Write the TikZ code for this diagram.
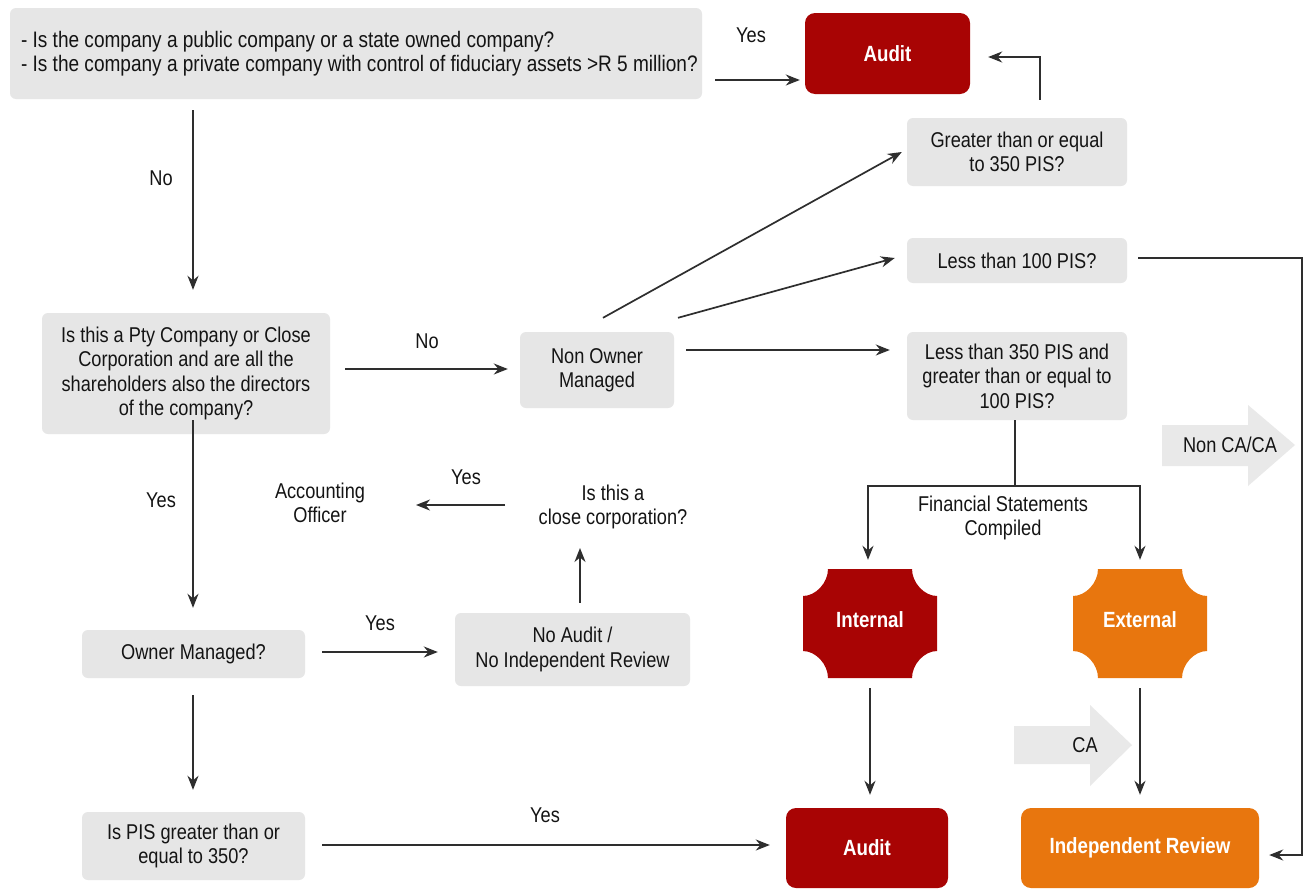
\documentclass[tikz,border=0pt]{standalone}
\usepackage{fontspec}
\setmainfont{Liberation Sans}[FakeStretch=0.85]
\usetikzlibrary{arrows.meta,calc}
\definecolor{boxgray}{HTML}{E6E6E6}
\definecolor{bigarrow}{HTML}{E9E9E9}
\definecolor{auditred}{HTML}{A80404}
\definecolor{extorange}{HTML}{E8760E}
\definecolor{linegray}{HTML}{2E2E2E}
\definecolor{txtcol}{HTML}{141414}
\newcommand\mainf{\fontsize{21.4}{24.5}\selectfont}
\newcommand\topf{\fontsize{22.4}{23.5}\selectfont}
\newcommand\boldf{\fontsize{22}{25}\selectfont\bfseries}
\tikzset{
  gbox/.style={fill=boxgray, rounded corners=6pt, inner sep=0pt, align=center, font=\mainf, text=txtcol},
  rbox/.style={fill=auditred, rounded corners=10pt, inner sep=0pt, font=\boldf, text=white},
  obox/.style={fill=extorange, rounded corners=10pt, inner sep=0pt, font=\boldf, text=white},
  lbl/.style={inner sep=0pt, align=center, font=\mainf, text=txtcol},
  arr/.style={draw=linegray, line width=1.7pt, -{Stealth[length=14pt,width=11pt]}},
  ln/.style={draw=linegray, line width=1.7pt},
  plaquetext/.style={inner sep=0pt, minimum width=134pt, minimum height=109pt, font=\boldf, text=white},
}
\newcommand\plaquepath[3]{%
  \fill[#3, shift={(#1,#2)}] (-42,-54.5) -- (42,-54.5)
    .. controls (42,-41) and (54,-27.5) .. (67,-27.5) -- (67,27.5)
    .. controls (54,27.5) and (42,41) .. (42,54.5) -- (-42,54.5)
    .. controls (-42,41) and (-54,27.5) .. (-67,27.5) -- (-67,-27.5)
    .. controls (-54,-27.5) and (-42,-41) .. (-42,-54.5) -- cycle;}
\begin{document}
\begin{tikzpicture}[x=1pt,y=-1pt]
\useasboundingbox[fill=white] (0,0) rectangle (1309,889);

% ---------- nodes ----------
\node[gbox, minimum width=692pt, minimum height=91pt, inner xsep=11pt, align=left, font=\topf] (q1) at (356,53.5)
  {\makebox[670pt][l]{- Is the company a public company or a state owned company?}\\\makebox[670pt][l]{- Is the company a private company with control of fiduciary assets >R 5 million?}};
\node[rbox, minimum width=165pt, minimum height=81pt] (audit1) at (887.5,53.5) {Audit};
\node[gbox, minimum width=220pt, minimum height=68pt] (g350) at (1017,152) {Greater than or equal\\to 350 PIS?};
\node[gbox, minimum width=220pt, minimum height=45pt] (l100) at (1017,260.5) {Less than 100 PIS?};
\node[gbox, minimum width=220pt, minimum height=88pt] (l350) at (1017,376) {Less than 350 PIS and\\greater than or equal to\\100 PIS?};
\node[gbox, minimum width=154pt, minimum height=76pt] (nom) at (597,370) {Non Owner\\Managed};
\node[gbox, minimum width=288pt, minimum height=121pt] (pty) at (186,373.5) {Is this a Pty Company or Close\\Corporation and are all the\\shareholders also the directors\\of the company?};
\node[gbox, minimum width=223pt, minimum height=48pt] (om) at (193.5,654) {Owner Managed?};
\node[gbox, minimum width=235pt, minimum height=73pt] (na) at (572.5,649.5) {No Audit /\\No Independent Review};
\node[lbl] (cc) at (613,507) {Is this a\\close corporation?};
\node[lbl] (ao) at (320,503) {Accounting\\Officer};
\node[gbox, minimum width=223pt, minimum height=68pt] (pis) at (193.5,846) {Is PIS greater than or\\equal to 350?};
\node[rbox, minimum width=162pt, minimum height=80pt] (audit2) at (867,848) {Audit};
\node[obox, minimum width=238pt, minimum height=80pt] (ir) at (1140,848) {Independent Review};

\plaquepath{870}{623.5}{auditred}
\plaquepath{1140}{623.5}{extorange}
\node[plaquetext] (int) at (870,620) {Internal};
\node[plaquetext] (ext) at (1140,620) {External};

% big gray arrows
\fill[bigarrow] (1162,425) -- (1248,425) -- (1248,405) -- (1295,445) -- (1248,486) -- (1248,466) -- (1162,466) -- cycle;
\node[lbl] (nca) at (1230,445) {Non CA/CA};
\fill[bigarrow] (1014,726) -- (1090,726) -- (1090,705) -- (1132,745) -- (1090,786) -- (1090,764) -- (1014,764) -- cycle;
\node[lbl] (ca) at (1085,745) {CA};

\node[lbl] (fsc) at (1003,518) {Financial Statements\\Compiled};

% labels
\node[lbl] at (751,35) {Yes};
\node[lbl] at (161,178) {No};
\node[lbl] at (427,341) {No};
\node[lbl] at (161,500) {Yes};
\node[lbl] at (466,477) {Yes};
\node[lbl] at (380,623) {Yes};
\node[lbl] at (545,815) {Yes};

% ---------- connectors ----------
\draw[arr] ([shift={(13,26.5)}]q1.east) -- ([shift={(-5,26.5)}]audit1.west);
\draw[arr] ([shift={(23,-18)}]g350.north) |- ([shift={(18,3.5)}]audit1.east);
\draw[arr] ([shift={(-163,11)}]q1.south) -- ([shift={(7,-23)}]pty.north);
\draw[arr] ([shift={(15,-4.5)}]pty.east) -- ([shift={(-12,-1)}]nom.west);
\draw[arr] ([shift={(7,-14)}]pty.south) -- ([shift={(-0.5,-22)}]om.north);
\draw[arr] ([shift={(17,-2)}]om.east) -- ([shift={(-17,2.5)}]na.west);
\draw[arr] ([shift={(7.5,-10)}]na.north) -- ([shift={(-33,41)}]cc.center);
\draw[arr] ([shift={(-108,-2)}]cc.center) -- ([shift={(96,2)}]ao.center);
\draw[arr] ([shift={(-0.5,17)}]om.south) -- ([shift={(-0.5,-22)}]pis.north);
\draw[arr] ([shift={(17,-1)}]pis.east) -- ([shift={(-16,-3)}]audit2.west);
\draw[arr] ([shift={(6,-14)}]nom.north) -- ([shift={(-5,0)}]g350.west);
\draw[arr] ([shift={(81,-14)}]nom.north) -- ([shift={(-12,-2.5)}]l100.west);
\draw[arr] ([shift={(12,-20)}]nom.east) -- ([shift={(-17,-26)}]l350.west);
\draw[arr] ([shift={(11,-2.5)}]l100.east) -- ++(164,0) |- ([shift={(10,7)}]ir.east);
\draw[ln] ([xshift=-2pt]l350.south) -- ++(0,66) coordinate (fsj);
\draw[arr] (fsj) -| ([shift={(-2,-5.5)}]int.north);
\draw[arr] (fsj) -| ([shift={(0,-5.5)}]ext.north);
\draw[arr] ([shift={(0,13.5)}]int.south) -- ([shift={(3,-13)}]audit2.north);
\draw[arr] ([shift={(0,13.5)}]ext.south) -- ([shift={(0,-13)}]ir.north);
\end{tikzpicture}
\end{document}
